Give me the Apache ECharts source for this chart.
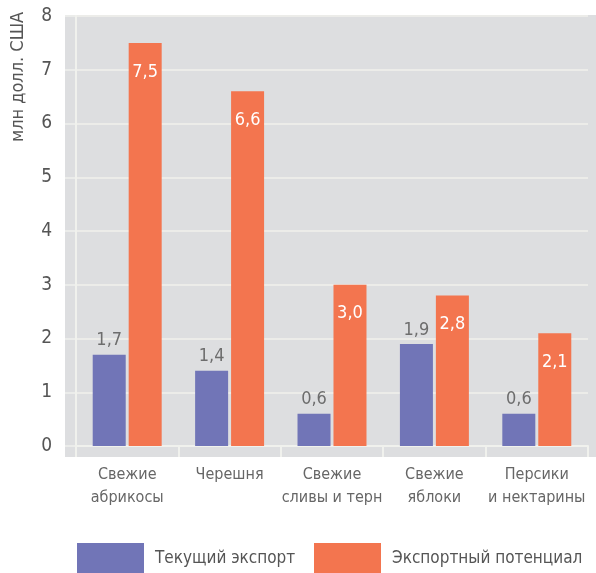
<!DOCTYPE html>
<html>
<head>
<meta charset="utf-8">
<script src="https://cdn.jsdelivr.net/npm/echarts@6/dist/echarts.min.js"></script>
<style>
  html, body { margin: 0; padding: 0; background: #fff; }
  #chart { width: 596px; height: 573px; }
</style>
</head>
<body>
<div id="chart"></div>
<script>
var categories = ['Свежие\nабрикосы', 'Черешня', 'Свежие\nсливы и терн', 'Свежие\nяблоки', 'Персики\nи нектарины'];
var currentExport = [1.7, 1.4, 0.6, 1.9, 0.6];
var exportPotential = [7.5, 6.6, 3.0, 2.8, 2.1];
var seriesNames = ['Текущий экспорт', 'Экспортный потенциал'];
var yTicks = [0, 8, 1];
var unitLabel = 'млн долл. США';

var FONT = '"Liberation Sans Narrow", "DejaVu Sans Condensed", "Roboto", sans-serif';
var BLUE = '#7175b7';
var ORANGE = '#f3754f';
var LINE = '#f0f1ed';

function comma(v) {
    return v.toFixed(1).replace('.', ',');
}

function legendAt(name, left) {
    return {
        top: 543, left: left, padding: 0,
        itemWidth: 67, itemHeight: 32,
        icon: 'rect',
        textStyle: { fontFamily: FONT, fontSize: 17, color: '#555', padding: [7, 0, 0, 6] },
        data: [name]
    };
}

var myChart = echarts.init(document.getElementById('chart'));

var option = {
    animation: false,
    textStyle: { fontFamily: FONT },
    graphic: [
        {
            type: 'rect', z: -10, silent: true,
            shape: { x: 65, y: 15, width: 531, height: 442 },
            style: { fill: '#dddee0' }
        },
        {
            type: 'text', x: 18, y: 77, rotation: Math.PI / 2,
            style: {
                text: unitLabel, fontFamily: FONT, fontSize: 18, fill: '#555',
                textAlign: 'center', textVerticalAlign: 'middle'
            }
        }
    ],
    grid: { left: 76, right: 8, top: 16, bottom: 127 },
    legend: [legendAt(seriesNames[0], 77), legendAt(seriesNames[1], 314)],
    xAxis: {
        type: 'category',
        data: categories,
        axisLine: { show: true, lineStyle: { color: LINE, width: 2 } },
        axisTick: { show: true, length: 11, lineStyle: { color: LINE, width: 2 } },
        axisLabel: { interval: 0, fontFamily: FONT, fontSize: 16, color: '#666', lineHeight: 23, margin: 17 }
    },
    yAxis: {
        type: 'value',
        min: yTicks[0], max: yTicks[1], interval: yTicks[2],
        axisLine: { show: true, lineStyle: { color: LINE, width: 2 } },
        axisTick: { show: true, length: 11, lineStyle: { color: LINE, width: 1.5 } },
        axisLabel: { fontFamily: FONT, fontSize: 19, color: '#555', margin: 24 },
        splitLine: { lineStyle: { color: LINE, width: 1.5 } }
    },
    series: [
        {
            name: seriesNames[0], type: 'bar', data: currentExport,
            barWidth: 33, barGap: '9%',
            itemStyle: { color: BLUE },
            label: {
                show: true, position: 'top', distance: 5,
                fontFamily: FONT, fontSize: 18, color: '#6d6d6d',
                formatter: function (p) { return comma(p.value); }
            }
        },
        {
            name: seriesNames[1], type: 'bar', data: exportPotential,
            barWidth: 33,
            itemStyle: { color: ORANGE },
            label: {
                show: true, position: 'insideTop', distance: 20,
                fontFamily: FONT, fontSize: 18, color: '#fff',
                formatter: function (p) { return comma(p.value); }
            }
        }
    ]
};

myChart.setOption(option);
</script>
</body>
</html>
